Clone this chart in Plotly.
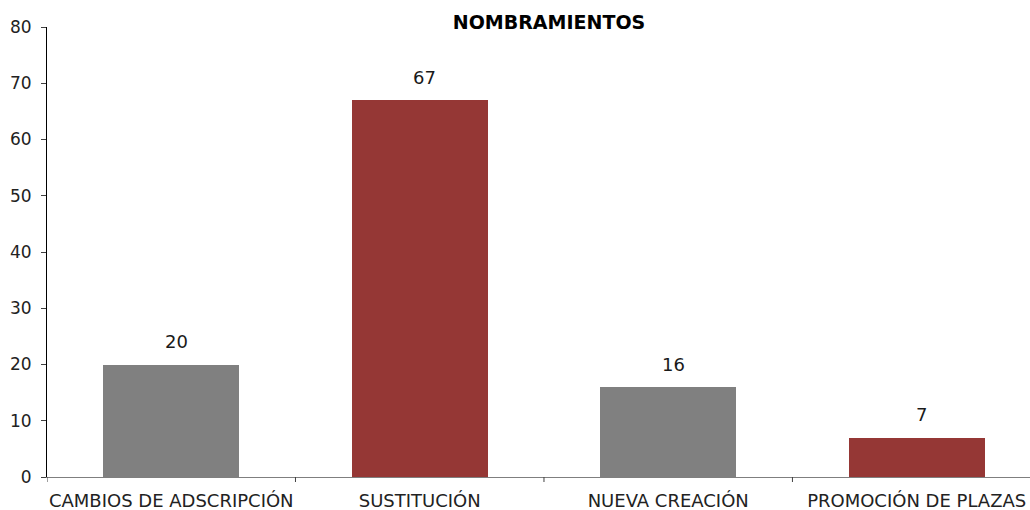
import plotly.graph_objects as go

categorias = ["CAMBIOS DE ADSCRIPCIÓN", "SUSTITUCIÓN", "NUEVA CREACIÓN", "PROMOCIÓN DE PLAZAS"]
valores = [20, 67, 16, 7]
colores = ["#808080", "#953735", "#808080", "#953735"]
y_ticks = [0, 10, 20, 30, 40, 50, 60, 70, 80]

fuente = "DejaVu Sans, sans-serif"

fig = go.Figure()
fig.add_trace(go.Bar(
    x=list(range(len(categorias))),
    y=valores,
    marker=dict(color=colores, line=dict(width=0)),
    width=0.547,
    hoverinfo="skip",
))

for i, v in enumerate(valores):
    fig.add_annotation(
        x=i, y=v, text=str(v), showarrow=False,
        yanchor="middle", yshift=23, xshift=5,
        font=dict(family=fuente, size=18, color="#1a1a1a"),
    )

fig.update_layout(
    width=1030, height=510,
    margin=dict(l=47, r=0, t=27, b=33),
    plot_bgcolor="white", paper_bgcolor="white",
    showlegend=False,
    bargap=0,
    title=dict(
        text="<b>NOMBRAMIENTOS</b>",
        x=549 / 1030, xanchor="center", xref="container",
        y=1 - 22 / 510, yanchor="middle", yref="container",
        font=dict(family=fuente, size=19, color="#000000"),
    ),
)

fig.update_xaxes(
    range=[-0.5, 3.456],
    tickmode="array",
    tickvals=list(range(len(categorias))),
    ticktext=categorias,
    showgrid=False, zeroline=False,
    showline=True, linecolor="#7f7f7f", linewidth=1,
    ticks="",
    ticklabelstandoff=7,
    tickfont=dict(family=fuente, size=18, color="#222222"),
)

# separator ticks between categories
for b in [-0.5, 0.5, 1.5, 2.5]:
    fig.add_shape(
        type="line", xref="x", yref="paper",
        x0=b, x1=b, y0=0, y1=-5 / 450,
        line=dict(color="#404040", width=1),
    )

fig.update_yaxes(
    range=[0, 80],
    tickmode="array", tickvals=y_ticks,
    showgrid=False, zeroline=False,
    showline=True, linecolor="#000000", linewidth=1,
    ticks="outside", ticklen=5, tickcolor="#404040",
    ticklabelstandoff=6,
    tickfont=dict(family=fuente, size=17, color="#222222"),
)

fig.write_html("out.html")
